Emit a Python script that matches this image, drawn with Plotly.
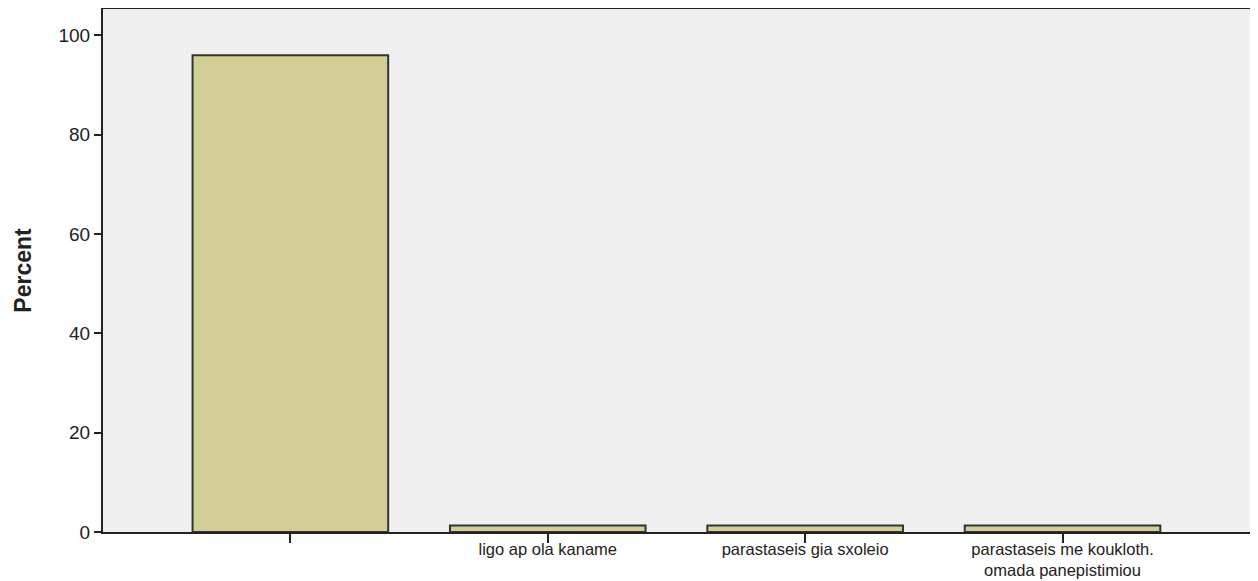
import plotly.graph_objects as go

categories = ["", "ligo ap ola kaname", "parastaseis gia sxoleio",
              "parastaseis me koukloth.<br>omada panepistimiou"]
percent = [96.0, 1.3, 1.3, 1.3]
y_ticks = [0, 20, 40, 60, 80, 100]

fig = go.Figure(go.Bar(
    x=list(range(len(categories))), y=percent,
    width=0.76,
    marker=dict(color="#D2CE96", line=dict(color="#333333", width=2)),
))

# page body has an 8px margin, so margins are offset accordingly
fig.update_layout(
    width=1247, height=573,
    margin=dict(l=95, r=2, t=1, b=49, autoexpand=False),
    paper_bgcolor="white", plot_bgcolor="#F0F0F0",
    font=dict(family="Liberation Sans, Arial, sans-serif", size=19, color="#222222"),
    showlegend=False, bargap=0.2,
)
fig.update_xaxes(
    range=[-0.728, 3.74], tickmode="array",
    tickvals=list(range(len(categories))), ticktext=categories,
    ticks="outside", ticklen=9, tickwidth=2, tickcolor="#222222",
    showline=True, linecolor="#222222", linewidth=2, mirror=True,
    showgrid=False, zeroline=False, tickfont=dict(size=16.5), automargin=False,
    ticklabelstandoff=-8,
)
fig.update_yaxes(
    range=[0, 105.3], tickmode="array", tickvals=y_ticks,
    ticks="outside", ticklen=7, tickwidth=2, tickcolor="#222222",
    showline=True, linecolor="#222222", linewidth=2, mirror=True,
    showgrid=False, zeroline=False, automargin=False,
    title=dict(text="<b>Percent</b>", font=dict(size=23), standoff=20),
)

fig.write_html("out.html")
